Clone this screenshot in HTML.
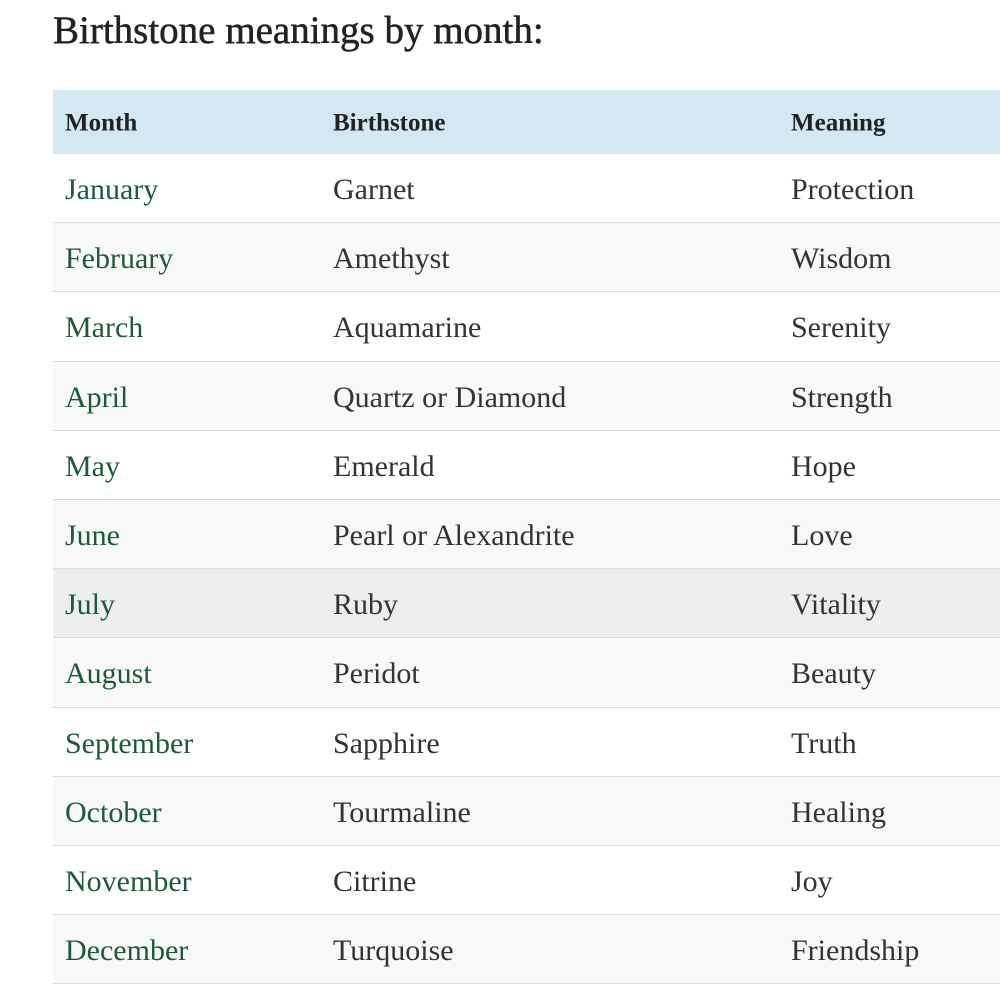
<!DOCTYPE html>
<html><head><style>
html,body{margin:0;padding:0;background:#fff;width:1000px;height:1000px;overflow:hidden}
body{font-family:"Liberation Serif",serif;position:relative}
.t{position:absolute;left:53px;top:8px;font-size:39px;color:#222;white-space:nowrap;letter-spacing:0;-webkit-text-stroke:0.5px #222}
.tb{position:absolute;left:53px;top:90px;width:947px}
.r{position:relative;height:68.2px;border-bottom:1px solid #dcdcdc}
.r span{position:absolute;top:50%;transform:translateY(-44%);font-size:30px;white-space:nowrap;color:#333}
.r span.a{left:12px;color:#1d5a3c}
.r span.b{left:280px}
.r span.c{left:738px}
.h{height:64px;background:#d3e8f3;border:none}
.h span{font-size:25px;font-weight:bold;color:#222!important}
.alt{background:#f8f8f8}
.hv{background:#eeeeee}
</style></head><body>
<div class="t">Birthstone meanings by month:</div>
<div class="tb">
<div class="r h"><span class="a">Month</span><span class="b">Birthstone</span><span class="c">Meaning</span></div>
<div class="r"><span class="a">January</span><span class="b">Garnet</span><span class="c">Protection</span></div>
<div class="r alt"><span class="a">February</span><span class="b">Amethyst</span><span class="c">Wisdom</span></div>
<div class="r"><span class="a">March</span><span class="b">Aquamarine</span><span class="c">Serenity</span></div>
<div class="r alt"><span class="a">April</span><span class="b">Quartz or Diamond</span><span class="c">Strength</span></div>
<div class="r"><span class="a">May</span><span class="b">Emerald</span><span class="c">Hope</span></div>
<div class="r alt"><span class="a">June</span><span class="b">Pearl or Alexandrite</span><span class="c">Love</span></div>
<div class="r hv"><span class="a">July</span><span class="b">Ruby</span><span class="c">Vitality</span></div>
<div class="r alt"><span class="a">August</span><span class="b">Peridot</span><span class="c">Beauty</span></div>
<div class="r"><span class="a">September</span><span class="b">Sapphire</span><span class="c">Truth</span></div>
<div class="r alt"><span class="a">October</span><span class="b">Tourmaline</span><span class="c">Healing</span></div>
<div class="r"><span class="a">November</span><span class="b">Citrine</span><span class="c">Joy</span></div>
<div class="r alt"><span class="a">December</span><span class="b">Turquoise</span><span class="c">Friendship</span></div>
</div>
</body></html>
